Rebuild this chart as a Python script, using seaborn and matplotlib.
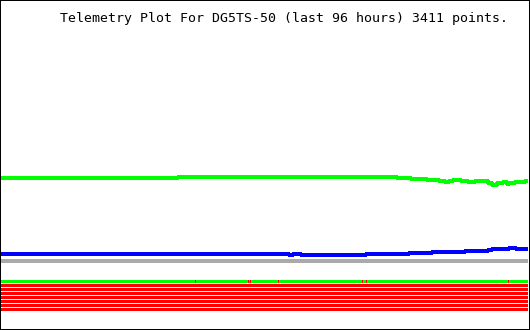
import numpy as np
import pandas as pd
import matplotlib
matplotlib.use("Agg")
import matplotlib.pyplot as plt
from matplotlib.colors import ListedColormap
from matplotlib.patches import Rectangle
import seaborn as sns

# ---- data (hours since start of 96 h window, step values) ----
title = "Telemetry Plot For DG5TS-50 (last 96 hours) 3411 points."

green_t = [0, 32.2, 72.1, 74.7, 77.6, 79.8, 80.9, 81.6, 82.3, 83.8, 85.1, 86.3,
           88.7, 89.4, 90.4, 91.4, 92.2, 92.5, 93.6, 95.4, 96]
green_v = [92, 93, 92, 91, 90, 89, 88, 89, 90, 89, 88, 89,
           87, 85, 87, 88, 86, 87, 88, 89, 89]

blue_t = [0, 52.5, 53.2, 54.6, 66.5, 74.3, 78.5, 84.5, 88.7, 89.4, 92.5, 93.8, 96]
blue_v = [16, 15, 16, 15, 16, 17, 18, 19, 20, 21, 22, 21, 21]

gray_t = [0, 96]
gray_v = [9, 9]

# status bit rows: row 0 ok (green) except fault instants; rows 1-7 always set (red)
fault_hours_row0 = [35.5, 45.0, 45.5, 50.5, 65.9, 66.5, 92.4]
n_bit_rows = 8
always_set_rows = [1, 2, 3, 4, 5, 6, 7]

# ---- figure ----
sns.set_theme(style="white")
fig = plt.figure(figsize=(5.3, 3.3), dpi=100, facecolor="white")
W, H = 530.0, 330.0

ax = fig.add_axes([1 / W, (H - 270) / H, 527 / W, 240 / H])
for t, v, c in [(green_t, green_v, "#00FF00"), (blue_t, blue_v, "#0000FF"),
                (gray_t, gray_v, "#AAAAAA")]:
    sns.lineplot(x=t, y=v, ax=ax, color=c, linewidth=1.5, estimator=None,
                 drawstyle="steps-post", antialiased=False, sort=False)
ax.set_xlim(0, 96)
ax.set_ylim(0, 240)
ax.axis("off")

# status heatmap
n_bins = 527
edges = np.linspace(0, 96, n_bins + 1)
mat = np.zeros((n_bit_rows, n_bins))
for r in always_set_rows:
    mat[r, :] = 1
for fh in fault_hours_row0:
    idx = min(np.searchsorted(edges, fh, side="right") - 1, n_bins - 1)
    mat[0, idx] = 1
axh = fig.add_axes([1 / W, (H - 312) / H, 527 / W, 32 / H])
sns.heatmap(pd.DataFrame(mat), ax=axh, cmap=ListedColormap(["#00FF00", "#FF0000"]),
            vmin=0, vmax=1, cbar=False, xticklabels=False, yticklabels=False,
            linewidths=0)
axh.collections[0].set_antialiased(False)
for i in range(n_bit_rows):
    axh.axhspan(i + 0.75, i + 1, color="white", lw=0, antialiased=False)
axh.axis("off")

fig.text(283.5 / W, 1 - 22 / H, title, ha="center", va="baseline",
         family="DejaVu Sans Mono", fontsize=9.55, color="black")

fig.patches.append(Rectangle((0, 0), 1, 1, transform=fig.transFigure, fill=False,
                             edgecolor="black", lw=1.44, antialiased=False))

fig.savefig("out.png", dpi=100, facecolor="white")
